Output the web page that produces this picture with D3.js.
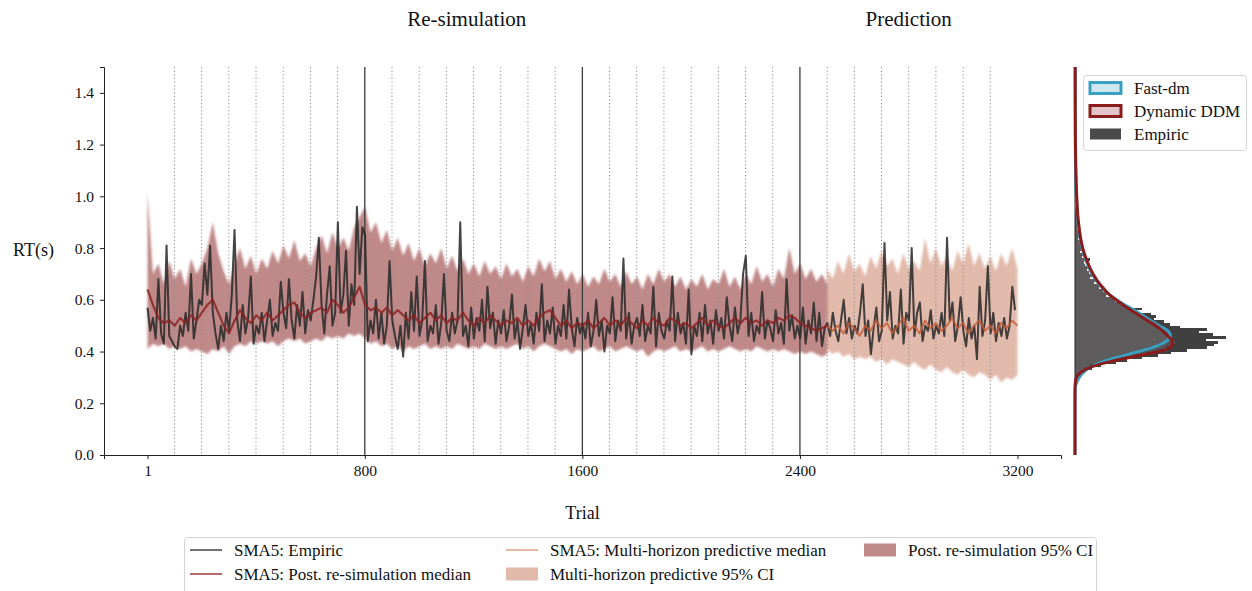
<!DOCTYPE html>
<html>
<head>
<meta charset="utf-8">
<script src="https://cdn.jsdelivr.net/npm/d3@7"></script>
<style>
  html, body { margin: 0; padding: 0; background: #fff; }
  svg { display: block; font-family: "Liberation Serif", "DejaVu Serif", serif; }
</style>
</head>
<body>
<svg id="chart" width="1252" height="591"></svg>
<script>
// ---- data -------------------------------------------------------------
// SMA5 empiric RT, one sample every 10 trials (trial 1, 11, 21, ...)
const empiricRT = [
  0.57,0.48,0.53,0.45,0.68,0.47,0.43,0.81,0.46,0.44,
  0.42,0.41,0.50,0.46,0.55,0.48,0.70,0.45,0.52,0.60,
  0.58,0.74,0.62,0.81,0.55,0.47,0.41,0.50,0.44,0.55,
  0.48,0.62,0.87,0.52,0.44,0.58,0.47,0.53,0.69,0.43,
  0.50,0.47,0.55,0.44,0.52,0.60,0.46,0.51,0.48,0.67,
  0.55,0.49,0.68,0.52,0.45,0.58,0.50,0.63,0.47,0.56,
  0.52,0.60,0.69,0.84,0.58,0.47,0.62,0.73,0.50,0.55,
  0.90,0.55,0.62,0.79,0.50,0.66,0.58,0.96,0.70,0.88,
  0.85,0.44,0.52,0.47,0.60,0.45,0.55,0.43,0.50,0.75,
  0.52,0.46,0.41,0.50,0.38,0.55,0.45,0.63,0.48,0.69,
  0.46,0.52,0.75,0.44,0.50,0.47,0.58,0.43,0.51,0.70,
  0.48,0.44,0.55,0.47,0.52,0.90,0.46,0.50,0.42,0.57,
  0.45,0.53,0.48,0.60,0.44,0.65,0.49,0.55,0.43,0.52,
  0.47,0.56,0.44,0.50,0.62,0.45,0.52,0.41,0.49,0.58,
  0.46,0.51,0.43,0.55,0.48,0.66,0.44,0.52,0.47,0.57,
  0.43,0.50,0.46,0.58,0.45,0.64,0.49,0.42,0.53,0.47,
  0.51,0.45,0.55,0.42,0.48,0.60,0.46,0.52,0.40,0.50,
  0.47,0.61,0.44,0.52,0.48,0.76,0.45,0.55,0.43,0.50,
  0.53,0.46,0.58,0.44,0.50,0.47,0.65,0.42,0.55,0.48,
  0.45,0.52,0.48,0.69,0.44,0.55,0.47,0.51,0.43,0.64,
  0.39,0.50,0.46,0.55,0.44,0.58,0.47,0.52,0.43,0.56,
  0.48,0.53,0.45,0.61,0.50,0.44,0.57,0.47,0.52,0.70,
  0.77,0.46,0.55,0.44,0.50,0.47,0.63,0.45,0.52,0.49,
  0.44,0.56,0.47,0.51,0.43,0.68,0.48,0.54,0.45,0.50,
  0.45,0.57,0.43,0.52,0.47,0.59,0.44,0.55,0.42,0.49,
  0.51,0.46,0.55,0.48,0.44,0.52,0.60,0.47,0.53,0.45,
  0.50,0.47,0.55,0.66,0.46,0.52,0.39,0.49,0.57,0.44,
  0.48,0.82,0.52,0.63,0.45,0.50,0.47,0.64,0.43,0.55,
  0.52,0.80,0.46,0.55,0.59,0.44,0.50,0.48,0.56,0.45,
  0.50,0.47,0.55,0.46,0.84,0.52,0.59,0.44,0.50,0.61,
  0.48,0.42,0.53,0.45,0.50,0.37,0.65,0.46,0.52,0.73,
  0.47,0.55,0.44,0.51,0.46,0.53,0.45,0.50,0.65,0.56
];
const empiricTrials = d3.range(1, 3200, 10);

// Posterior re-simulation (trial 1 ... 2501, every 20 trials)
const resimTrials = d3.range(1, 2502, 20);
const resimMedian = [
  0.64,0.58,0.53,0.51,0.52,0.50,0.53,0.51,0.54,0.52,
  0.55,0.58,0.60,0.55,0.50,0.47,0.52,0.56,0.53,0.51,
  0.54,0.52,0.55,0.52,0.54,0.56,0.58,0.59,0.55,0.53,
  0.55,0.56,0.57,0.55,0.60,0.58,0.55,0.57,0.61,0.65,
  0.58,0.56,0.57,0.55,0.57,0.54,0.56,0.54,0.52,0.54,
  0.51,0.53,0.55,0.52,0.54,0.51,0.53,0.52,0.55,0.52,
  0.50,0.53,0.51,0.54,0.52,0.50,0.52,0.51,0.53,0.50,
  0.52,0.50,0.53,0.55,0.56,0.53,0.50,0.52,0.49,0.51,
  0.50,0.52,0.49,0.51,0.53,0.50,0.52,0.50,0.53,0.51,
  0.49,0.52,0.50,0.53,0.51,0.50,0.53,0.52,0.50,0.51,
  0.49,0.51,0.53,0.50,0.52,0.50,0.49,0.51,0.53,0.51,
  0.53,0.51,0.52,0.50,0.52,0.51,0.53,0.52,0.54,0.53,
  0.51,0.50,0.49,0.48,0.49,0.50
];
const resimUpper = [
  1.01,0.70,0.74,0.66,0.75,0.68,0.72,0.65,0.76,0.70,
  0.74,0.80,0.90,0.78,0.71,0.66,0.74,0.80,0.72,0.77,
  0.70,0.76,0.72,0.79,0.74,0.81,0.76,0.83,0.75,0.78,
  0.73,0.80,0.85,0.78,0.86,0.80,0.84,0.79,0.88,0.92,
  0.96,0.86,0.90,0.82,0.87,0.79,0.84,0.77,0.82,0.75,
  0.80,0.73,0.78,0.74,0.80,0.72,0.77,0.71,0.76,0.70,
  0.74,0.69,0.75,0.70,0.73,0.68,0.74,0.69,0.72,0.67,
  0.73,0.69,0.76,0.71,0.75,0.68,0.72,0.67,0.71,0.66,
  0.70,0.65,0.69,0.66,0.72,0.67,0.70,0.65,0.71,0.66,
  0.69,0.64,0.70,0.66,0.72,0.67,0.70,0.65,0.69,0.64,
  0.68,0.65,0.70,0.64,0.68,0.66,0.72,0.65,0.69,0.64,
  0.70,0.66,0.73,0.67,0.70,0.65,0.72,0.68,0.80,0.70,
  0.74,0.68,0.72,0.67,0.70,0.66
];
const resimLower = [
  0.41,0.43,0.42,0.43,0.41,0.42,0.41,0.42,0.40,0.41,
  0.40,0.39,0.41,0.40,0.42,0.39,0.42,0.43,0.42,0.44,
  0.43,0.44,0.43,0.44,0.42,0.44,0.45,0.44,0.45,0.43,
  0.44,0.45,0.44,0.46,0.45,0.46,0.45,0.47,0.46,0.47,
  0.45,0.43,0.44,0.42,0.43,0.41,0.42,0.40,0.42,0.41,
  0.42,0.43,0.41,0.42,0.41,0.42,0.41,0.43,0.42,0.41,
  0.42,0.41,0.43,0.42,0.41,0.42,0.41,0.42,0.43,0.41,
  0.42,0.40,0.42,0.43,0.42,0.41,0.40,0.41,0.39,0.41,
  0.40,0.41,0.42,0.40,0.41,0.42,0.40,0.41,0.42,0.41,
  0.40,0.41,0.38,0.40,0.41,0.40,0.41,0.42,0.40,0.41,
  0.40,0.41,0.42,0.40,0.41,0.40,0.41,0.42,0.41,0.40,
  0.41,0.40,0.42,0.41,0.40,0.41,0.40,0.41,0.40,0.39,
  0.40,0.39,0.40,0.39,0.38,0.39
];

// Multi-horizon prediction (trial 2500 ... 3200, every 20 trials)
const predTrials = d3.range(2500, 3201, 20);
const predMedian = [
  0.50,0.48,0.50,0.47,0.51,0.49,0.46,0.50,0.48,0.52,
  0.49,0.51,0.47,0.50,0.53,0.48,0.50,0.47,0.52,0.49,
  0.51,0.48,0.50,0.53,0.49,0.51,0.47,0.50,0.52,0.48,
  0.50,0.47,0.51,0.49,0.52,0.50
];
const predUpper = [
  0.72,0.68,0.75,0.70,0.78,0.71,0.74,0.69,0.77,0.72,
  0.79,0.73,0.76,0.70,0.78,0.72,0.75,0.71,0.84,0.74,
  0.80,0.73,0.77,0.71,0.79,0.74,0.82,0.73,0.78,0.72,
  0.77,0.71,0.78,0.73,0.80,0.72
];
const predLower = [
  0.41,0.39,0.40,0.38,0.39,0.37,0.38,0.37,0.38,0.36,
  0.37,0.35,0.37,0.36,0.35,0.34,0.36,0.34,0.33,0.35,
  0.33,0.32,0.34,0.32,0.31,0.33,0.31,0.30,0.32,0.31,
  0.29,0.31,0.28,0.30,0.29,0.31
];

// Marginal RT distribution (bins of 0.01 s starting at 0.28 s)
const binStarts = d3.range(0, 68).map(i => +(0.28 + i * 0.01).toFixed(2));
const histEmpiric = [
  0.1,0.2,0.3,0.4,0.5,1.0,1.5,2.4,3.0,3.9,
  4.8,5.6,6.5,7.7,8.1,8.3,7.6,8.8,8.0,7.2,
  7.7,6.1,5.5,5.2,4.6,4.7,4.4,3.6,3.9,3.0,
  2.6,2.3,2.4,1.8,2.0,1.6,1.4,1.5,1.1,1.3,
  0.9,1.0,0.8,0.7,0.8,0.6,0.5,0.9,0.4,0.5,
  0.3,0.5,0.4,0.3,0.4,0.2,0.3,0.2,0.3,0.1,
  0.2,0.2,0.1,0.2,0.1,0.1,0.1,0.1
];
const histDynamic = [
  0.0,0.1,0.1,0.2,0.4,0.6,0.9,1.4,2.0,2.7,
  3.4,4.2,4.9,5.3,5.6,5.8,5.6,5.5,5.4,5.2,
  5.1,4.9,4.7,4.4,4.2,4.0,3.7,3.5,3.3,3.0,
  2.8,2.6,2.4,2.2,2.0,1.9,1.7,1.6,1.4,1.3,
  1.2,1.2,1.0,1.0,0.9,0.8,0.8,0.7,0.6,0.6,
  0.5,0.5,0.4,0.4,0.4,0.3,0.3,0.3,0.3,0.2,
  0.2,0.2,0.2,0.2,0.2,0.1,0.1,0.1
];
const histFastdm = [
  0.1,0.2,0.3,0.4,0.5,0.7,0.9,1.3,1.6,2.1,
  2.6,3.2,3.7,4.2,4.7,5.0,5.3,5.5,5.6,5.5,
  5.4,5.2,4.9,4.7,4.4,4.1,3.9,3.7,3.4,3.2,
  2.9,2.7,2.5,2.3,2.0,1.9,1.7,1.6,1.4,1.3,
  1.2,1.1,1.0,0.9,0.9,0.8,0.7,0.7,0.6,0.6,
  0.5,0.5,0.4,0.4,0.4,0.3,0.3,0.3,0.2,0.2,
  0.2,0.2,0.2,0.1,0.1,0.1,0.1,0.1
];

// Fitted densities on an RT grid
const densityGrid = [0.00,0.20,0.26,0.28,0.30,0.32,0.34,0.36,0.38,0.40,0.42,0.44,0.46,0.48,0.50,0.52,0.55,0.58,0.62,0.66,0.70,0.75,0.80,0.90,1.00,1.10,1.25,1.50];
const densityDynamic = [0.00,0.00,0.00,0.02,0.08,0.35,0.90,2.00,3.40,4.90,5.60,5.65,5.40,5.10,4.70,4.20,3.50,2.80,2.00,1.45,1.05,0.70,0.45,0.20,0.10,0.05,0.02,0.01];
const densityFastdm  = [0.00,0.00,0.02,0.10,0.25,0.50,0.90,1.60,2.60,3.70,4.70,5.30,5.55,5.40,4.90,4.40,3.70,2.90,2.00,1.40,1.00,0.65,0.42,0.18,0.08,0.04,0.02,0.01];

const yTicks = [0, 0.2, 0.4, 0.6, 0.8, 1.0, 1.2, 1.4];
const xTicks = [1, 800, 1600, 2400, 3200];
const blockBounds = [800, 1600, 2400];
const sessionMarks = d3.range(100, 3200, 100).filter(t => !blockBounds.includes(t));

// ---- colours ------------------------------------------------------------
const C = {
  empiric: "#2b2b2b",
  resim: "#8b2424",
  resimBand: "#8c2a2a",
  pred: "#c35a38",
  predBand: "#c77a5e",
  fast: "#3a9fc0",
  fastFill: "#cfe7ef",
  dyn: "#8b1c1c",
  dynFill: "#e3c4c8",
  hist: "#363636"
};

// ---- layout -------------------------------------------------------------
const svg = d3.select("#chart");
const x = d3.scaleLinear().domain([-159, 3360]).range([104, 1061]);
const y = d3.scaleLinear().domain([0, 1.5]).range([455, 67]);
const xd = d3.scaleLinear().domain([0, 10]).range([1075, 1247]);

const defs = svg.append("defs");
defs.append("filter").attr("id", "soft")
  .attr("x", "-2%").attr("y", "-5%").attr("width", "104%").attr("height", "110%")
  .append("feGaussianBlur").attr("stdDeviation", 0.9);

const main = svg.append("g");

// bands
const band = (ts, lo, hi) => d3.area()
  .x((d, i) => x(ts[i])).y0((d, i) => y(lo[i])).y1((d, i) => y(hi[i]))(ts);

main.append("path").attr("d", band(predTrials, predLower, predUpper))
  .attr("fill", C.predBand).attr("fill-opacity", 0.52).attr("filter", "url(#soft)");
main.append("path").attr("d", band(resimTrials, resimLower, resimUpper))
  .attr("fill", C.resimBand).attr("fill-opacity", 0.55).attr("filter", "url(#soft)");

// session markers
main.append("g").selectAll("line").data(sessionMarks).join("line")
  .attr("x1", d => x(d)).attr("x2", d => x(d)).attr("y1", 67).attr("y2", 455)
  .attr("stroke", "#8a8a8a").attr("stroke-width", 1).attr("stroke-dasharray", "1.2,2.4");
main.append("g").selectAll("line").data(blockBounds).join("line")
  .attr("x1", d => x(d)).attr("x2", d => x(d)).attr("y1", 67).attr("y2", 455)
  .attr("stroke", "#3a3a3a").attr("stroke-width", 1.3);

// series lines
const line = ts => d3.line().x((d, i) => x(ts[i])).y(d => y(d));
main.append("path").datum(empiricRT).attr("d", line(empiricTrials))
  .attr("fill", "none").attr("stroke", C.empiric).attr("stroke-width", 2)
  .attr("stroke-opacity", 0.88).attr("stroke-linejoin", "round");
main.append("path").datum(resimMedian).attr("d", line(resimTrials))
  .attr("fill", "none").attr("stroke", C.resim).attr("stroke-width", 2.2)
  .attr("stroke-opacity", 0.85).attr("stroke-linejoin", "round");
main.append("path").datum(predMedian).attr("d", line(predTrials))
  .attr("fill", "none").attr("stroke", C.pred).attr("stroke-width", 2)
  .attr("stroke-opacity", 0.8).attr("stroke-linejoin", "round");

// axes
const axFont = g => g.selectAll("text").attr("font-size", 15.5).attr("fill", "#111")
  .attr("font-family", "'Liberation Serif', serif");
const yAxis = svg.append("g").attr("transform", "translate(104,0)")
  .call(d3.axisLeft(y).tickValues(yTicks).tickFormat(d3.format(".1f")).tickSize(4).tickPadding(6));
const xAxis = svg.append("g").attr("transform", "translate(0,455)")
  .call(d3.axisBottom(x).tickValues(xTicks).tickFormat(d => String(d)).tickSize(4).tickPadding(6));
[yAxis, xAxis].forEach(g => {
  g.select(".domain").attr("stroke", "#222").attr("stroke-width", 1);
  g.selectAll(".tick line").attr("stroke", "#222");
  axFont(g);
});

// titles & labels
const text = (s, tx, ty, size, anchor) => svg.append("text").text(s)
  .attr("x", tx).attr("y", ty).attr("font-size", size).attr("text-anchor", anchor || "middle").attr("fill", "#111");
text("Re-simulation", x(1175), 26, 21);
text("Prediction", (x(2400) + x(3200)) / 2, 26, 21);
text("RT(s)", 13, 256, 18, "start");
text("Trial", (x(1) + x(3200)) / 2, 519, 18);

// ---- marginal distribution panel ---------------------------------------
const side = svg.append("g");
const bar = (vals, fill, op) => side.append("g").selectAll("rect").data(vals).join("rect")
  .attr("x", xd(0)).attr("width", d => xd(d) - xd(0))
  .attr("y", (d, i) => y(binStarts[i] + 0.01)).attr("height", (d, i) => y(binStarts[i]) - y(binStarts[i] + 0.01))
  .attr("fill", fill).attr("fill-opacity", op)
  .attr("shape-rendering", "crispEdges");
bar(histEmpiric, C.hist, 0.95);
bar(histDynamic, C.dynFill, 0.15);
bar(histFastdm, C.fastFill, 0.06);

side.append("line").attr("x1", xd(0)).attr("x2", xd(0)).attr("y1", 67).attr("y2", 455)
  .attr("stroke", "#222").attr("stroke-width", 1);

const dens = d3.line().x(d => xd(d)).y((d, i) => y(densityGrid[i])).curve(d3.curveMonotoneY);
side.append("path").datum(densityFastdm).attr("d", dens)
  .attr("fill", "none").attr("stroke", C.fast).attr("stroke-width", 3);
side.append("path").datum(densityDynamic).attr("d", dens)
  .attr("fill", "none").attr("stroke", C.dyn).attr("stroke-width", 3);

// side legend
const sl = svg.append("g");
sl.append("rect").attr("x", 1083.5).attr("y", 75.5).attr("width", 163).attr("height", 75)
  .attr("rx", 3).attr("fill", "#fff").attr("fill-opacity", 0.85).attr("stroke", "#d5d5d5");
const sideItems = [
  { label: "Fast-dm", fill: C.fastFill, stroke: C.fast, sw: 3 },
  { label: "Dynamic DDM", fill: C.dynFill, stroke: C.dyn, sw: 3 },
  { label: "Empiric", fill: "#4a4a4a", stroke: "none", sw: 0 }
];
sideItems.forEach((it, i) => {
  const cy = 88 + i * 23;
  sl.append("rect").attr("x", 1090).attr("y", cy - 5.5).attr("width", 31).attr("height", 11)
    .attr("fill", it.fill).attr("stroke", it.stroke).attr("stroke-width", it.sw);
  sl.append("text").text(it.label).attr("x", 1134).attr("y", cy + 5.5)
    .attr("font-size", 17).attr("fill", "#111");
});

// bottom legend
const bl = svg.append("g");
bl.append("rect").attr("x", 184.5).attr("y", 537.5).attr("width", 912).attr("height", 60)
  .attr("rx", 3).attr("fill", "#fff").attr("stroke", "#d5d5d5");
const lineItem = (lx, ly, color, label, tx) => {
  bl.append("line").attr("x1", lx).attr("x2", lx + 32).attr("y1", ly).attr("y2", ly)
    .attr("stroke", color).attr("stroke-width", 1.5);
  bl.append("text").text(label).attr("x", tx).attr("y", ly + 5.5).attr("font-size", 17).attr("fill", "#111");
};
const patchItem = (lx, ly, color, op, label, tx) => {
  bl.append("rect").attr("x", lx).attr("y", ly - 6.5).attr("width", 32).attr("height", 13)
    .attr("fill", color).attr("fill-opacity", op);
  bl.append("text").text(label).attr("x", tx).attr("y", ly + 5.5).attr("font-size", 17).attr("fill", "#111");
};
lineItem(190, 550, "#444", "SMA5: Empiric", 234);
lineItem(190, 574, "#a23a3a", "SMA5: Post. re-simulation median", 234);
lineItem(506, 550, "#e0a088", "SMA5: Multi-horizon predictive median", 550);
patchItem(506, 574, C.predBand, 0.52, "Multi-horizon predictive 95% CI", 550);
patchItem(864, 550, C.resimBand, 0.55, "Post. re-simulation 95% CI", 908);
</script>
</body>
</html>
